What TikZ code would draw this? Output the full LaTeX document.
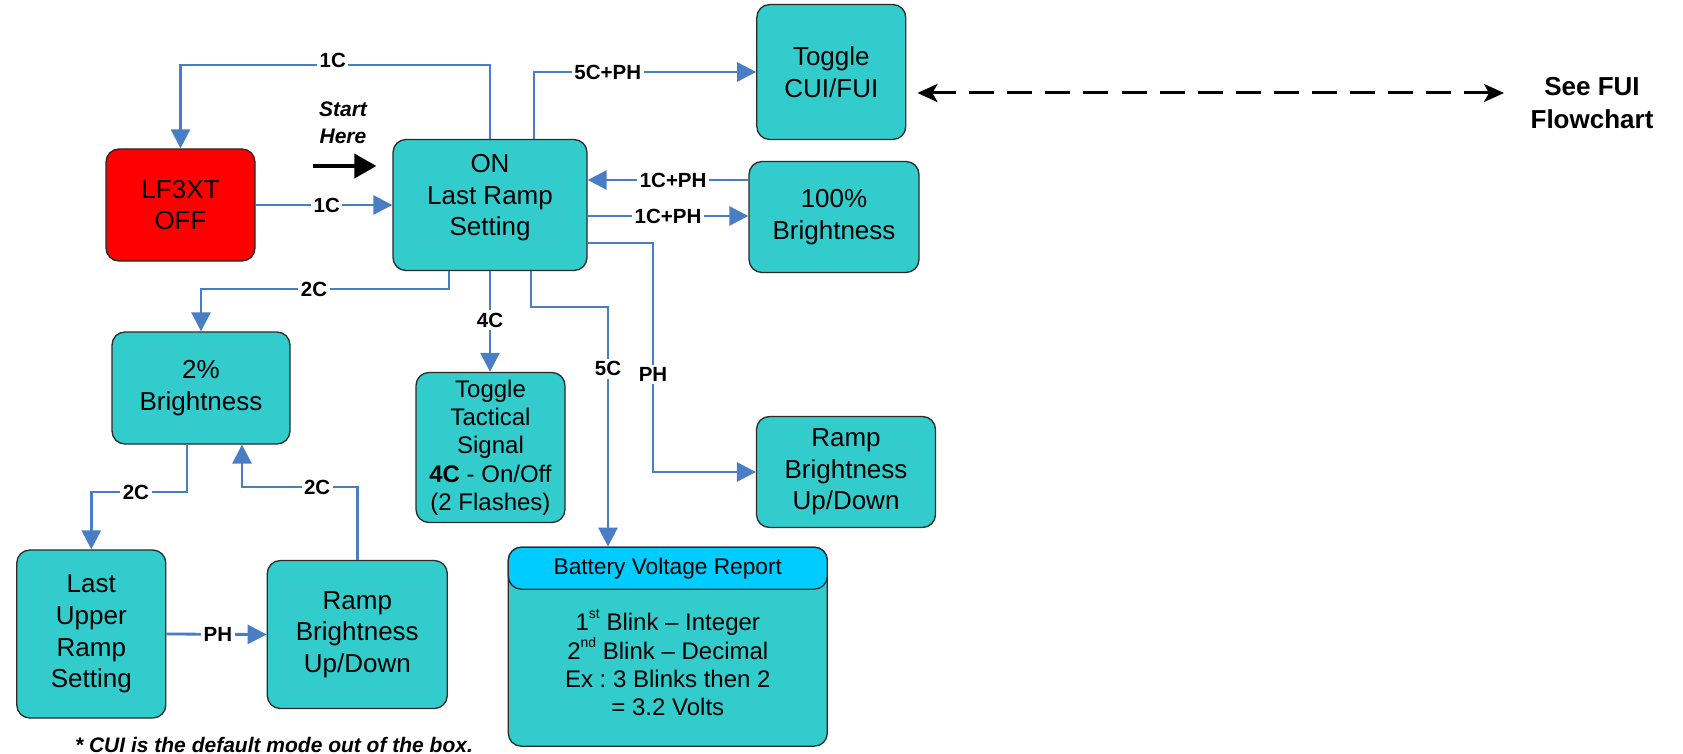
\documentclass[tikz,border=0pt]{standalone}
\usepackage{fontspec}
\setmainfont{Liberation Sans}
\usetikzlibrary{arrows.meta,calc}
\definecolor{tealfill}{HTML}{33CCCC}
\definecolor{offred}{HTML}{FF0000}
\definecolor{headcyan}{HTML}{00CCFF}
\definecolor{lineblue}{HTML}{4A7EC4}
\definecolor{edgegray}{HTML}{2A2A2A}
\newcommand{\supr}[1]{\raisebox{0.5em}{\fontsize{14}{14}\selectfont #1}}
\frenchspacing
\tikzset{
  box/.style={draw=edgegray, line width=1.3pt, fill=tealfill, rounded corners=13pt, align=center, inner sep=0pt, font=\fontsize{26}{31.7}\selectfont},
  flow/.style={draw=lineblue, line width=2.8pt, -{Triangle[length=19pt,width=19pt]}},
  lbl/.style={fill=white, inner sep=2.5pt, font=\bfseries\fontsize{20.5}{24}\selectfont},
  note/.style={align=center, inner sep=0pt, font=\bfseries\itshape\fontsize{21}{27}\selectfont},
}
\begin{document}
\begin{tikzpicture}[x=1pt,y=-1pt]
\useasboundingbox (0,0) rectangle (1683,754);
% boxes
\node[box, fill=offred, minimum width=149pt, minimum height=112pt] (off) at (180.5,205) {LF3XT\\OFF};
\node[box, minimum width=194pt, minimum height=131pt] (on) at (490,205) {ON\\Last Ramp\\Setting\rule[-20pt]{0pt}{1pt}};
\node[box, minimum width=149pt, minimum height=135pt] (cui) at (831.3,72) {Toggle\\CUI/FUI};
\node[box, minimum width=170pt, minimum height=111pt] (full) at (834,217) {100\%\\Brightness};
\node[box, minimum width=178pt, minimum height=112pt] (two) at (201,388) {2\%\\Brightness};
\node[box, minimum width=149pt, minimum height=150pt, font=\fontsize{24}{28.3}\selectfont] (tact) at (490.5,447.5) {Toggle\\Tactical\\Signal\\\textbf{4C} - On/Off\\(2 Flashes)};
\node[box, minimum width=179pt, minimum height=111pt] (rampR) at (846,472) {Ramp\\Brightness\\Up/Down};
\node[box, minimum width=149pt, minimum height=168pt] (last) at (91.3,634) {Last\\Upper\\Ramp\\Setting};
\node[box, minimum width=180pt, minimum height=148pt] (rampB) at (357.3,634.5) {Ramp\\Brightness\\Up/Down};
\node[box, minimum width=319pt, minimum height=199pt] (batt) at (667.8,646.7) {};
\node[box, fill=headcyan, anchor=north, minimum width=319pt, minimum height=42pt, font=\fontsize{22.7}{27}\selectfont] (battHead) at (batt.north) {Battery Voltage Report};
\node[align=center, inner sep=0pt, font=\fontsize{24}{28.3}\selectfont] (battBody) at (667.8,663) {1\supr{st} Blink – Integer\\2\supr{nd} Blink – Decimal\\Ex : 3 Blinks then 2\\= 3.2 Volts};
% texts
\node[note] (start) at (343,123) {Start\\Here};
\node[align=center, inner sep=0pt, font=\bfseries\fontsize{26}{33}\selectfont] (seefui) at (1592,103) {See FUI\\Flowchart};
\node[inner sep=0pt, font=\bfseries\itshape\fontsize{21}{25}\selectfont] (foot) at (274,745) {* CUI is the default mode out of the box.};
% connectors
\draw[flow] (on.north) -- (on.north |- 0,65) -| node[lbl, pos=0.254, yshift=5pt] (l1c) {1C} (off.north);
\draw[flow] (off.east) -- node[lbl, pos=0.52] (l1cb) {1C} (on.west);
\draw[flow] ([xshift=44pt]on.north) |- node[lbl, pos=0.666] (l5cph) {5C+PH} (cui.west);
\draw[flow] (full.west |- 0,180) -- node[lbl, pos=0.468] (l1cpha) {1C+PH} (on.east |- 0,180);
\draw[flow] (on.east |- 0,216) -- node[lbl, pos=0.5] (l1cphb) {1C+PH} (full.west |- 0,216);
\draw[flow] (on.east |- 0,243) -- (653,243) -- node[lbl, pos=0.576] (lph) {PH} (653,472) -- (rampR.west);
\draw[flow] ([xshift=-41pt]on.south) -- (449,289) -| node[lbl, pos=0.272] (l2c) {2C} (two.north);
\draw[flow] (on.south) -- node[lbl, pos=0.485] (l4c) {4C} (on.south |- tact.north);
\draw[flow] ([xshift=41pt]on.south) |- (608,307) -- node[lbl, pos=0.258] (l5c) {5C} (battHead.north -| 608,0);
\draw[flow] ([xshift=-14pt]two.south) -- (187,492) -| node[lbl, pos=0.267] (l2cb) {2C} (last.north);
\draw[flow] (rampB.north) -- (357.3,487) -| node[lbl, pos=0.174] (l2cc) {2C} ([xshift=41pt]two.south);
\draw[flow] (last.east) -- node[lbl, pos=0.513] (lphb) {PH} (rampB.west);
% start arrow
\coordinate (startA) at (313,166);
\draw[line width=4pt, -{Triangle[length=22pt,width=24pt]}] (startA) -- ([xshift=-16pt]on.west |- 0,166);
% dashed link
\coordinate (dashR) at (1504,93);
\draw[line width=3pt, dash pattern=on 25pt off 13pt, {Stealth[length=20pt,width=18pt,inset=5pt]}-{Stealth[length=20pt,width=18pt,inset=5pt]}] ([xshift=11pt]cui.east |- 0,93) -- (dashR);
\end{tikzpicture}
\end{document}
